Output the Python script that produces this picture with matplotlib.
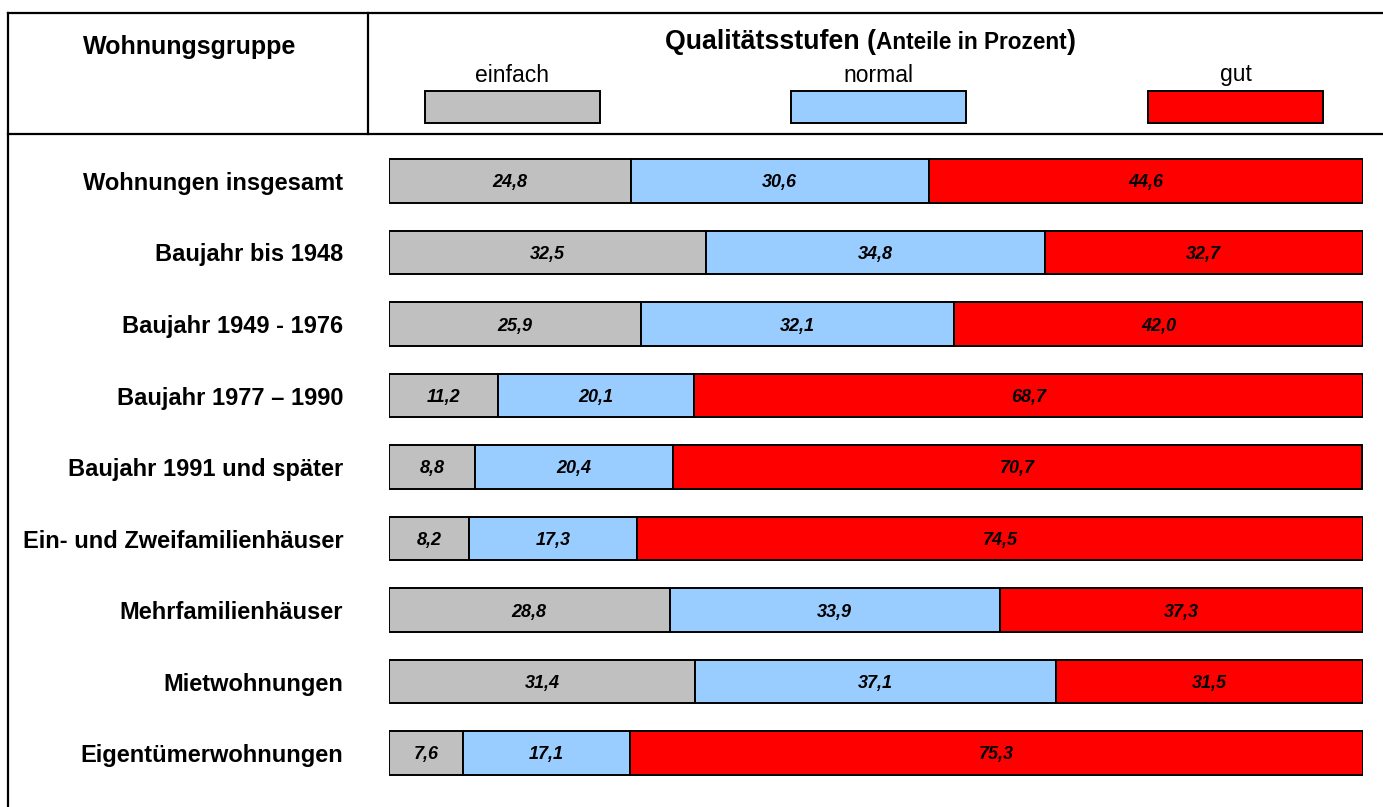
import numpy as np
import matplotlib.pyplot as plt
from matplotlib.lines import Line2D
from matplotlib.patches import Rectangle

plt.rcParams['font.family'] = ['Liberation Sans', 'DejaVu Sans']

groups = ['Wohnungen insgesamt', 'Baujahr bis 1948', 'Baujahr 1949 - 1976',
          'Baujahr 1977 \u2013 1990', 'Baujahr 1991 und später',
          'Ein- und Zweifamilienhäuser', 'Mehrfamilienhäuser',
          'Mietwohnungen', 'Eigentümerwohnungen']
einfach = [24.8, 32.5, 25.9, 11.2, 8.8, 8.2, 28.8, 31.4, 7.6]
normal = [30.6, 34.8, 32.1, 20.1, 20.4, 17.3, 33.9, 37.1, 17.1]
gut = [44.6, 32.7, 42.0, 68.7, 70.7, 74.5, 37.3, 31.5, 75.3]
levels = ['einfach', 'normal', 'gut']
colors = ['#C0C0C0', '#99CCFF', '#FF0000']

W, H = 1383, 807
fig = plt.figure(figsize=(W / 100, H / 100), dpi=100)


def fx(x):
    return x / W


def fy(y):
    return 1 - y / H


# Rahmen / Tabellenkopf
lw = 1.6
fig.add_artist(Line2D([fx(8), 1], [fy(13), fy(13)], color='black', lw=lw))
fig.add_artist(Line2D([fx(8), 1], [fy(134), fy(134)], color='black', lw=lw))
fig.add_artist(Line2D([fx(8), fx(8)], [fy(13), 0], color='black', lw=lw))
fig.add_artist(Line2D([fx(368), fx(368)], [fy(13), fy(134)], color='black', lw=lw))

fig.text(fx(190), fy(47), 'Wohnungsgruppe', fontsize=18, fontweight='bold',
         ha='center', va='center')

# Titel aus drei Stücken, hintereinander gesetzt
renderer = fig.canvas.get_renderer()
x0 = 665
for part, size in [('Qualitätsstufen (', 19.3), ('Anteile in Prozent', 16.3),
                   (')', 19.3)]:
    t = fig.text(fx(x0), fy(49), part, fontsize=size, fontweight='bold',
                 ha='left', va='baseline')
    x0 += t.get_window_extent(renderer).width

legend_x = [425, 791, 1148]
for lx, name, c in zip(legend_x, levels, colors):
    fig.add_artist(Rectangle((fx(lx), fy(123)), fx(175), 32 / H,
                             facecolor=c, edgecolor='black', lw=1.4))
    fig.text(fx(lx + 87.5), fy(75), name, fontsize=16.5, ha='center',
             va='center')

# Balken
ax = fig.add_axes([fx(389), fy(788.75), fx(1363) - fx(389), 643.5 / H])
y = np.arange(len(groups))
left = np.zeros(len(groups))
for vals, c in zip([einfach, normal, gut], colors):
    vals = np.array(vals)
    ax.barh(y, vals, left=left, height=0.615, color=c, edgecolor='black',
            linewidth=1.4)
    for yi, l, v in zip(y, left, vals):
        ax.text(l + v / 2, yi, f'{v:.1f}'.replace('.', ','), ha='center',
                va='center_baseline', fontsize=13, fontweight='bold',
                style='italic')
    left += vals

ax.set_xlim(0, 100)
ax.set_ylim(len(groups) - 0.5, -0.5)
ax.set_yticks(y)
ax.set_yticklabels(groups, fontsize=17, fontweight='bold')
ax.tick_params(axis='y', length=0, pad=33)
ax.set_xticks([])
for s in ax.spines.values():
    s.set_visible(False)

fig.savefig('out.png', dpi=100)
